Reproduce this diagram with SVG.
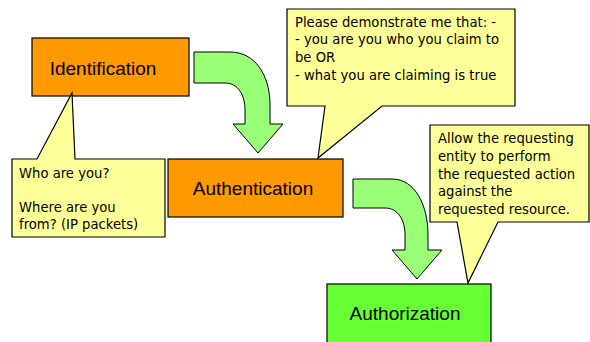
<svg xmlns="http://www.w3.org/2000/svg" width="590" height="342" viewBox="0 0 590 342">
<style>
.box{stroke:#000;stroke-width:1.2}
.orange{fill:#ff9900}
.green{fill:#66ff33}
.callout{fill:#ffff99;stroke:#000;stroke-width:1.2;stroke-linejoin:miter}
.arrow{fill:#99ff77;stroke:#000;stroke-width:1}
.lbl{font-family:"Liberation Sans",Arial,sans-serif;font-size:19px;fill:#000;text-anchor:middle}
.note{font-family:"DejaVu Sans","Noto Sans",sans-serif;font-size:13.2px;fill:#000}
</style>
<rect width="590" height="342" fill="#fff"/>
<g id="connectors">
<path class="arrow" d="M194,52 L230,52 C255,52 270,75 270,105 L270,124 L283,124 L258,153 L233,124 L245,124 L245,110 C245,95 238,83 225,83 L194,83 Z"/>
<path class="arrow" d="M353,179 L392,179 C415,179 428,205 428,235 L428,250 L442,250 L417,279 L392,250 L405,250 L405,235 C405,220 398,208 385,208 L353,208 Z"/>
</g>
<g id="identification">
<rect class="box orange" x="32" y="38" width="157" height="58"/>
<text class="lbl" x="103" y="75">Identification</text>
</g>
<g id="authentication">
<rect class="box orange" x="168" y="159" width="175" height="58"/>
<text class="lbl" x="253" y="195">Authentication</text>
</g>
<g id="authorization">
<rect class="box green" x="327" y="284" width="164" height="62"/>
<text class="lbl" x="405" y="320">Authorization</text>
</g>
<g id="callout-identification">
<path class="callout" d="M12,159 L37,159 L72,93 L75,159 L165,159 L165,237 L12,237 Z"/>
<text class="note" x="19" y="178">Who are you?</text>
<text class="note" x="19" y="212">Where are you</text>
<text class="note" x="19" y="229">from? (IP packets)</text>
</g>
<g id="callout-authentication">
<path class="callout" d="M287,9 L515,9 L515,106 L382,106 L318,158 L325,106 L287,106 Z"/>
<text class="note" x="295" y="27">Please demonstrate me that: -</text>
<text class="note" x="295" y="44">- you are you who you claim to</text>
<text class="note" x="295" y="62">be OR</text>
<text class="note" x="295" y="80">- what you are claiming is true</text>
</g>
<g id="callout-authorization">
<path class="callout" d="M430,125 L589,125 L589,222 L498,222 L468,283 L457,222 L430,222 Z"/>
<text class="note" x="438" y="143">Allow the requesting</text>
<text class="note" x="438" y="161">entity to perform</text>
<text class="note" x="438" y="179">the requested action</text>
<text class="note" x="438" y="196">against the</text>
<text class="note" x="438" y="214">requested resource.</text>
</g>
</svg>
